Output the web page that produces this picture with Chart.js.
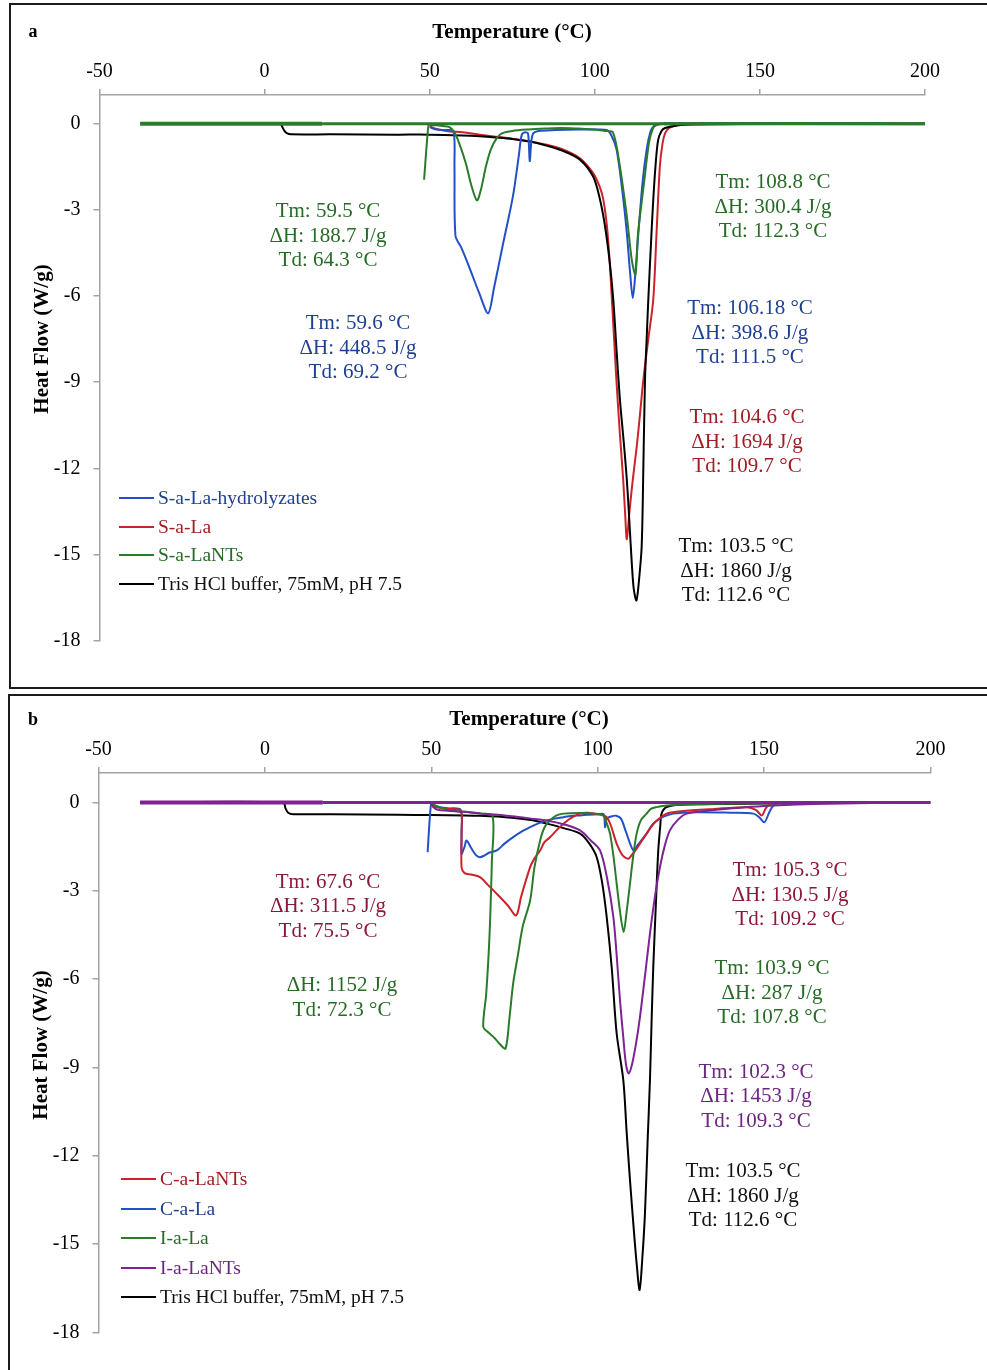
<!DOCTYPE html>
<html>
<head>
<meta charset="utf-8">
<script src="https://cdn.jsdelivr.net/npm/chart.js@4.4.1/dist/chart.umd.min.js"></script>
<style>
  html, body { margin: 0; padding: 0; background: #fff; }
  body { width: 987px; height: 1370px; position: relative; overflow: hidden;
         font-family: "Liberation Serif", "Times New Roman", serif; }
  .frame { position: absolute; border: 2px solid #1b1b1b; box-sizing: border-box; }
  canvas { position: absolute; left: 0; }
  .t { position: absolute; white-space: nowrap; }
  .title { font-weight: bold; font-size: 21px; transform: translate(-50%, -50%); }
  .ytitle { font-weight: bold; font-size: 21px; transform: translate(-50%, -50%) rotate(-90deg); }
  .panel { font-weight: bold; font-size: 18px; transform: translate(-50%, -50%); }
  .note { font-size: 21px; line-height: 24.5px; text-align: center; transform: translateX(-50%); }
  .leg { font-size: 19.5px; display: flex; align-items: center; transform: translateY(-50%); }
  .leg i { display: inline-block; width: 35px; height: 2px; margin-right: 4px; }
</style>
</head>
<body>
<div class="frame" style="left:9px;top:3px;width:990px;height:686px"></div>
<div class="frame" style="left:8px;top:694px;width:990px;height:690px"></div>
<canvas id="chartA" width="987" height="688" style="top:0"></canvas>
<canvas id="chartB" width="987" height="680" style="top:690px"></canvas>
<div id="texts"></div>
<script>
// ---- axis ticks ----
const tempTicks = [-50, 0, 50, 100, 150, 200];
const heatFlowTicks = [-18, -15, -12, -9, -6, -3, 0];

// ---- panel a : S-series thermograms (temperature °C, heat flow W/g); null splits runs ----
const aNames = ['S-a-La-hydrolyzates', 'S-a-La', 'S-a-LaNTs', 'Tris HCl buffer, 75mM, pH 7.5'];

const aHydroT = [50, 52, 55, 57.2, 57.5, 57.8, 59.5, 62, 65, 67.7, 69.5, 72, 75.2, 77, 77.9, 79, 79.8, 80.3, 80.8, 81.4, 83, 88, 95, 100, 103.6, 105, 106.6, 108.5, 109.7, 110.7, 111.5, 112.3, 113.2, 114.5, 115.7, 116.8, 117.7, 119, 200];
const aHydroV = [-0.12, -0.2, -0.22, -0.25, -1.5, -3.9, -4.3, -5.0, -5.9, -6.6, -5.7, -4.3, -2.53, -1.1, -0.38, -0.3, -0.35, -1.3, -0.6, -0.33, -0.25, -0.22, -0.2, -0.2, -0.22, -0.4, -0.9, -2.5, -3.8, -5.2, -6.07, -5.2, -3.8, -2.0, -0.9, -0.3, -0.1, 0, 0];

const aLaT = [50, 51, 55, 60, 65.2, 70, 75, 80.4, 85, 90.5, 95.5, 99.5, 101.5, 102.6, 103.7, 104.6, 105.6, 106.6, 107.6, 108.6, 109.2, 109.7, 110.5, 111.5, 112.7, 113.7, 114.7, 116.2, 117.7, 118.7, 119.7, 120.5, 121.3, 122.5, 123.8, 126, 130, 200];
const aLaV = [-0.05, -0.15, -0.25, -0.3, -0.38, -0.45, -0.52, -0.62, -0.72, -0.9, -1.2, -1.72, -2.2, -2.65, -3.6, -4.97, -7.0, -9.03, -10.8, -12.4, -13.6, -14.47, -13.5, -12.4, -11.24, -10.1, -8.92, -7.5, -6.13, -3.8, -1.49, -0.7, -0.33, -0.15, -0.09, -0.03, 0, 0];

const aNTsT = [-37.7, 17.4, 200, null, 48.3, 49.4, 49.8, 50.5, 52, 54, 56, 57.5, 59, 61, 62.5, 64.3, 65.5, 67, 68.5, 70.3, 72, 75, 80, 85, 90, 95, 100, 103, 105.5, 107.6, 109.7, 111.2, 112.3, 113.1, 114.9, 116.4, 117.5, 118.5, 121, 200];
const aNTsV = [0, 0, 0, null, -1.95, -0.3, 0, -0.05, -0.05, -0.08, -0.12, -0.3, -0.7, -1.4, -2.1, -2.67, -2.3, -1.5, -0.9, -0.5, -0.33, -0.25, -0.2, -0.17, -0.15, -0.17, -0.2, -0.25, -0.3, -1.49, -3.23, -4.74, -5.25, -3.81, -2.07, -0.67, -0.2, -0.06, 0, 0];

const aBufT = [-37.5, 4.7, 5.3, 6.0, 6.7, 8, 20, 40, 50, 60, 65.2, 70, 75, 80.4, 85, 90.5, 95.5, 99.5, 101.5, 103, 104.5, 105.6, 106.6, 107.6, 108.7, 109.7, 110.5, 111.2, 111.8, 112.6, 113.3, 114.2, 114.7, 115.2, 115.7, 116.2, 117.0, 117.7, 118.5, 119.2, 120.2, 121.3, 125, 130, 158.5];
const aBufV = [0, 0, -0.1, -0.25, -0.33, -0.37, -0.37, -0.38, -0.38, -0.41, -0.44, -0.48, -0.53, -0.62, -0.75, -0.95, -1.25, -1.84, -2.6, -3.5, -4.8, -6.13, -7.9, -9.6, -11.0, -12.4, -13.9, -15.3, -16.2, -16.6, -16.0, -14.7, -12.0, -8.92, -7.5, -6.13, -4.2, -2.65, -1.3, -0.56, -0.25, -0.15, -0.06, -0.03, 0];

const aNotes = [
  ['Tm: 59.5 °C', 'ΔH: 188.7 J/g', 'Td: 64.3 °C'],
  ['Tm: 59.6 °C', 'ΔH: 448.5 J/g', 'Td: 69.2 °C'],
  ['Tm: 108.8 °C', 'ΔH: 300.4 J/g', 'Td: 112.3 °C'],
  ['Tm: 106.18 °C', 'ΔH: 398.6 J/g', 'Td: 111.5 °C'],
  ['Tm: 104.6 °C', 'ΔH: 1694 J/g', 'Td: 109.7 °C'],
  ['Tm: 103.5 °C', 'ΔH: 1860 J/g', 'Td: 112.6 °C']
];

// ---- panel b : C- and I-series thermograms ----
const bNames = ['C-a-LaNTs', 'C-a-La', 'I-a-La', 'I-a-LaNTs', 'Tris HCl buffer, 75mM, pH 7.5'];

const bCNTsT = [50, 51, 55, 58.8, 59.1, 59.1, 60, 62, 64.6, 67, 70.6, 73, 75.5, 77, 79.7, 81, 82.7, 84, 85.5, 86.7, 88, 90, 91.7, 94.7, 97, 100, 102.7, 104, 105.7, 107.5, 109.2, 110.5, 111.7, 114.7, 117, 120.7, 125, 135, 144.8, 147.5, 149.3, 150.5, 151.8, 155, 200];
const bCNTsV = [-0.05, -0.15, -0.22, -0.27, -1.0, -2.2, -2.4, -2.45, -2.54, -2.8, -3.21, -3.5, -3.84, -3.2, -2.2, -1.9, -1.63, -1.35, -1.2, -1.06, -0.9, -0.7, -0.55, -0.38, -0.35, -0.4, -0.5, -0.8, -1.4, -1.8, -1.91, -1.75, -1.57, -1.06, -0.7, -0.38, -0.3, -0.22, -0.16, -0.25, -0.44, -0.2, -0.05, 0, 0];

const bCLaT = [48.9, 49.5, 50, 50.5, 52, 55, 58.8, 59.1, 59.1, 60, 60.6, 62, 63.5, 64.6, 66, 67.5, 69.7, 72, 74.6, 77, 79.7, 82, 84.7, 87, 89.7, 92, 94.7, 97, 100, 101.8, 102.2, 102.7, 104, 105.5, 107, 108.5, 110.7, 112, 114.7, 116.5, 118.7, 122.7, 130, 140, 146.8, 148.5, 150.1, 151.5, 152.8, 155, 200];
const bCLaV = [-1.69, -0.6, 0, -0.08, -0.15, -0.2, -0.25, -1.0, -1.74, -1.5, -1.29, -1.55, -1.8, -1.86, -1.8, -1.7, -1.63, -1.4, -1.18, -1.0, -0.84, -0.72, -0.61, -0.55, -0.5, -0.46, -0.44, -0.42, -0.4, -0.4, -0.84, -0.55, -0.48, -0.45, -0.55, -1.0, -1.63, -1.45, -1.06, -0.75, -0.55, -0.38, -0.33, -0.35, -0.38, -0.5, -0.67, -0.35, -0.1, 0, 0];

const bILaT = [50, 55, 60, 65, 68.4, 68.2, 67.5, 66.5, 65.6, 67, 69, 70.5, 72.3, 73.5, 74.6, 76, 77.5, 79.7, 81, 82.7, 84, 85.7, 87.5, 89.7, 94.7, 99, 101.7, 102.7, 103.7, 104.7, 105.7, 106.7, 107.8, 108.7, 109.7, 110.7, 111.7, 113, 114.7, 116, 117.7, 120.7, 130, 200];
const bILaV = [-0.05, -0.25, -0.32, -0.38, -0.45, -2.0, -4.5, -6.5, -7.63, -7.8, -8.0, -8.2, -8.36, -7.3, -6.15, -5.2, -4.2, -3.33, -2.2, -1.29, -0.85, -0.61, -0.45, -0.38, -0.36, -0.38, -0.44, -0.7, -1.06, -1.8, -2.76, -3.7, -4.4, -3.7, -2.76, -1.8, -1.06, -0.6, -0.38, -0.22, -0.16, -0.1, -0.05, 0];

const bINTsT = [-37.5, 17.4, 200, null, 50, 50.5, 52, 55, 60, 65, 70, 75, 80, 84.7, 90, 94.7, 98, 100.7, 102.7, 104.7, 105.7, 106.7, 107.7, 108.5, 109.3, 110.3, 111.5, 112.7, 114.2, 115.7, 117.2, 118.7, 120.2, 121.7, 124, 126.7, 133, 139.7, 146, 152.8, 164.8, 200];
const bINTsV = [0, 0, 0, null, 0, -0.15, -0.25, -0.28, -0.32, -0.38, -0.42, -0.48, -0.55, -0.61, -0.75, -0.95, -1.3, -1.63, -2.5, -3.89, -5.2, -6.72, -8.0, -8.9, -9.21, -8.9, -8.2, -7.29, -5.9, -4.46, -3.2, -2.2, -1.45, -0.95, -0.6, -0.38, -0.28, -0.21, -0.15, -0.1, -0.05, 0];

const bBufT = [-37.5, 5.5, 6.2, 7, 8.5, 20, 40, 50, 60, 64.6, 70, 75, 80, 84.7, 90, 94.7, 97.5, 99.7, 101.3, 102.7, 104.2, 105.7, 107.7, 108.7, 109.7, 110.7, 111.7, 112.6, 113.4, 114.2, 115, 115.7, 116.2, 116.7, 117.5, 118.2, 118.8, 119.2, 120.7, 125, 140, 158.3];
const bBufV = [0, 0, -0.2, -0.35, -0.4, -0.4, -0.42, -0.43, -0.44, -0.45, -0.48, -0.53, -0.6, -0.72, -0.88, -1.06, -1.4, -1.86, -2.7, -3.89, -5.6, -7.85, -9.44, -11.2, -12.83, -14.3, -15.66, -16.56, -15.5, -13.96, -11.5, -9.44, -7.4, -5.59, -3.4, -1.63, -0.8, -0.38, -0.16, -0.08, -0.05, -0.03];

const bNotes = [
  ['Tm: 67.6 °C', 'ΔH: 311.5 J/g', 'Td: 75.5 °C'],
  ['ΔH: 1152 J/g', 'Td: 72.3 °C'],
  ['Tm: 105.3 °C', 'ΔH: 130.5 J/g', 'Td: 109.2 °C'],
  ['Tm: 103.9 °C', 'ΔH: 287 J/g', 'Td: 107.8 °C'],
  ['Tm: 102.3 °C', 'ΔH: 1453 J/g', 'Td: 109.3 °C'],
  ['Tm: 103.5 °C', 'ΔH: 1860 J/g', 'Td: 112.6 °C']
];

// ---- styling ----
const C = { blue: '#2350c6', red: '#cc2229', green: '#2a7b2a', purple: '#7d2392', black: '#000000' };
const TXT = { blue: '#1f3f93', red: '#a11d24', maroon: '#8a1838', green: '#266b26', purple: '#6c2680', black: '#111111' };
const SERIF = '"Liberation Serif", "Times New Roman", serif';

function points(T, V) {
  return T.map((t, i) => ({ x: t === null ? T[i - 1] : t, y: V[i] }));
}

// thicker stroke on the long flat zero-heat-flow runs
const baselineWidth = ctx => {
  const a = ctx.p0.parsed, b = ctx.p1.parsed;
  if (a.y === 0 && b.y === 0 && b.x - a.x > 30) return b.x <= 18 ? 4 : 3;
  return undefined;
};

function series(label, T, V, color, order, thickBase) {
  const ds = { label, data: points(T, V), borderColor: color, backgroundColor: color,
    borderWidth: 2, pointRadius: 0, fill: false, spanGaps: false, tension: 0.3,
    borderJoinStyle: 'round', order };
  if (thickBase) ds.segment = { borderWidth: baselineWidth };
  return ds;
}

const axisGrey = '#a3a3a3';
function axes(yWidth, xHeight) {
  const tickFont = { family: SERIF, size: 20 };
  return {
    x: { type: 'linear', position: 'top', min: -50, max: 200,
      afterBuildTicks: s => { s.ticks = tempTicks.map(v => ({ value: v })); },
      afterFit: s => { s.height = xHeight; },
      ticks: { font: tickFont, color: '#000', padding: 5, maxRotation: 0 },
      grid: { drawOnChartArea: false, drawTicks: true, tickLength: 6, color: axisGrey, lineWidth: 1.5 },
      border: { color: axisGrey, width: 1.5 } },
    y: { type: 'linear', min: -18, max: 1,
      afterBuildTicks: s => { s.ticks = heatFlowTicks.map(v => ({ value: v })); },
      afterFit: s => { s.width = yWidth; },
      ticks: { font: tickFont, color: '#000', padding: 13 },
      grid: { drawOnChartArea: false, drawTicks: true, tickLength: 6, color: axisGrey, lineWidth: 1.5 },
      border: { color: axisGrey, width: 1.5 } }
  };
}

function makeChart(id, datasets, padding) {
  return new Chart(document.getElementById(id), {
    type: 'line',
    data: { datasets },
    options: {
      responsive: false, animation: false, devicePixelRatio: 1,
      layout: { padding },
      plugins: { legend: { display: false }, tooltip: { enabled: false } },
      scales: axes(80, 50)
    }
  });
}

const chartA = makeChart('chartA', [
  series(aNames[0], aHydroT, aHydroV, C.blue, 1),
  series(aNames[1], aLaT, aLaV, C.red, 3),
  series(aNames[2], aNTsT, aNTsV, C.green, 0, true),
  series(aNames[3], aBufT, aBufV, C.black, 2)
], { left: 19.5, top: 45, right: 62, bottom: 47.3 });

const chartB = makeChart('chartB', [
  series(bNames[0], bCNTsT, bCNTsV, C.red, 2),
  series(bNames[1], bCLaT, bCLaV, C.blue, 3),
  series(bNames[2], bILaT, bILaV, C.green, 1),
  series(bNames[3], bINTsT, bINTsV, C.purple, 0, true),
  series(bNames[4], bBufT, bBufV, C.black, 4)
], { left: 18.5, top: 33, right: 56.5, bottom: 37.7 });

// ---- text layer: titles, legends, peak annotations ----
const host = document.getElementById('texts');
function put(cls, html, x, y, color) {
  const d = document.createElement('div');
  d.className = 't ' + cls;
  d.style.left = x + 'px';
  d.style.top = y + 'px';
  if (color) d.style.color = color;
  d.innerHTML = html;
  host.appendChild(d);
  return d;
}

// panel a
put('panel', 'a', 33, 31);
put('title', 'Temperature (°C)', 512, 31);
put('ytitle', 'Heat Flow (W/g)', 41, 339);
const aNoteLayout = [
  { c: TXT.green, x: 328, y: 198 },
  { c: TXT.blue, x: 358, y: 310 },
  { c: TXT.green, x: 773, y: 169 },
  { c: TXT.blue, x: 750, y: 295 },
  { c: TXT.red, x: 747, y: 404 },
  { c: TXT.black, x: 736, y: 533 }
];
aNotes.forEach((lines, i) => put('note', lines.join('<br>'), aNoteLayout[i].x, aNoteLayout[i].y, aNoteLayout[i].c));
const aLegendText = [TXT.blue, TXT.red, TXT.green, TXT.black];
chartA.data.datasets.forEach((ds, i) => {
  put('leg', '<i style="background:' + ds.borderColor + '"></i>' + ds.label, 119, 498.3 + i * 28.4, aLegendText[i]);
});

// panel b
put('panel', 'b', 33, 719);
put('title', 'Temperature (°C)', 529, 718);
put('ytitle', 'Heat Flow (W/g)', 40, 1045);
const bNoteLayout = [
  { c: TXT.maroon, x: 328, y: 868.5 },
  { c: TXT.green, x: 342, y: 972 },
  { c: TXT.maroon, x: 790, y: 857 },
  { c: TXT.green, x: 772, y: 955 },
  { c: TXT.purple, x: 756, y: 1058.5 },
  { c: TXT.black, x: 743, y: 1158 }
];
bNotes.forEach((lines, i) => put('note', lines.join('<br>'), bNoteLayout[i].x, bNoteLayout[i].y, bNoteLayout[i].c));
const bLegendText = [TXT.red, TXT.blue, TXT.green, TXT.purple, TXT.black];
chartB.data.datasets.forEach((ds, i) => {
  put('leg', '<i style="background:' + ds.borderColor + '"></i>' + ds.label, 121, 1179.3 + i * 29.5, bLegendText[i]);
});
</script>
</body>
</html>
